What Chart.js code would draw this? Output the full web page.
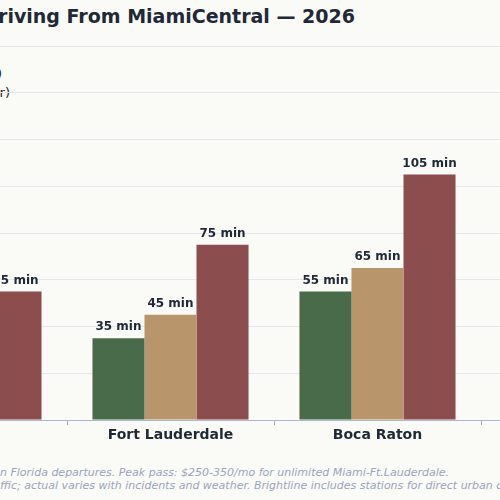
<!DOCTYPE html>
<html>
<head>
<meta charset="utf-8">
<script src="https://cdn.jsdelivr.net/npm/chart.js@4"></script>
<style>
  body { margin: 0; background: #fafaf7; width: 500px; height: 500px; overflow: hidden; position: relative; font-family: "DejaVu Sans", sans-serif; }
  .r { position: absolute; white-space: nowrap; text-align: right; }
  .l { position: absolute; white-space: nowrap; }
  .pre { position: absolute; right: 100%; }
  #title { top: 5px; right: 145px; font-size: 19px; font-weight: bold; color: #1f2937; }
  .leg { font-size: 13px; color: #222; }
  .note { font-size: 11px; font-style: italic; color: #9aa5bd; left: 0; }
  #box { position: absolute; left: -300px; top: 0; width: 988px; height: 460px; }
</style>
</head>
<body>
<div id="title" class="r">Commute Times: Brightline vs Driving From MiamiCentral — 2026</div>
<div class="r leg" style="top:66px; right:498px;">Brightline (Premium)</div>
<div class="r leg" style="top:85px; right:490px;">Driving (Peak Hour)</div>
<div id="box"><canvas id="grafico"></canvas></div>
<div class="l note" style="top:466px;"><span class="pre">Brightline times from MiamiCentral to downtow</span>n Florida departures. Peak pass: $250-350/mo for unlimited Miami-Ft.Lauderdale.</div>
<div class="l note" style="top:479px;"><span class="pre">Driving times assume typical rush-hour tra</span>ffic; actual varies with incidents and weather. Brightline includes stations for direct urban core drop-off.</div>
<script>
var cidades = ["Aventura", "Fort Lauderdale", "Boca Raton", "West Palm Beach"];
var brightline = [20, 35, 55, 60];
var foraPico = [30, 45, 65, 80];
var horaPico = [55, 75, 105, 130];
var ticksY = [0, 20, 40, 60, 80, 100, 120, 140, 160];

var rotulos = {
	id: 'rotulos',
	afterDatasetsDraw: function(chart){
		var ctx = chart.ctx;
		ctx.save();
		ctx.font = 'bold 12px "DejaVu Sans"';
		ctx.fillStyle = '#1f2937';
		ctx.textAlign = 'center';
		ctx.textBaseline = 'bottom';
		chart.data.datasets.forEach(function(ds, i){
			chart.getDatasetMeta(i).data.forEach(function(bar, j){
				ctx.fillText(ds.data[j] + ' min', bar.x, bar.y - 5);
			});
		});
		ctx.restore();
	}
};

new Chart(document.getElementById("grafico"), {
	type: 'bar',
	data: {
		labels: cidades,
		datasets: [
			{ label: "Brightline (Premium)", backgroundColor: "#4a6b4a", data: brightline },
			{ label: "Driving (Off-Peak)", backgroundColor: "#b8956a", data: foraPico },
			{ label: "Driving (Peak Hour)", backgroundColor: "#8b4d4d", data: horaPico }
		]
	},
	options: {
		responsive: true,
		maintainAspectRatio: false,
		animation: false,
		layout: { padding: { top: 46, left: 0, right: 0, bottom: 0 } },
		datasets: { bar: { barPercentage: 1, categoryPercentage: 0.754 } },
		plugins: { legend: { display: false }, title: { display: false }, tooltip: { enabled: false } },
		scales: {
			x: {
				grid: { display: true, drawOnChartArea: false, tickLength: 5, color: '#a0aec0' },
				border: { color: '#a9b6cf' },
				ticks: { color: '#1f2937', font: { size: 14, weight: 'bold', family: 'DejaVu Sans' }, padding: 2 },
				afterFit: function(s){ s.height = 40; }
			},
			y: {
				min: 0, max: 160,
				afterBuildTicks: function(s){ s.ticks = ticksY.map(function(v){ return { value: v }; }); },
				grid: { color: '#e5e7eb' },
				border: { display: false },
				ticks: { color: '#4b5563' },
				afterFit: function(s){ s.width = 160; }
			}
		}
	},
	plugins: [rotulos]
});
</script>
</body>
</html>
